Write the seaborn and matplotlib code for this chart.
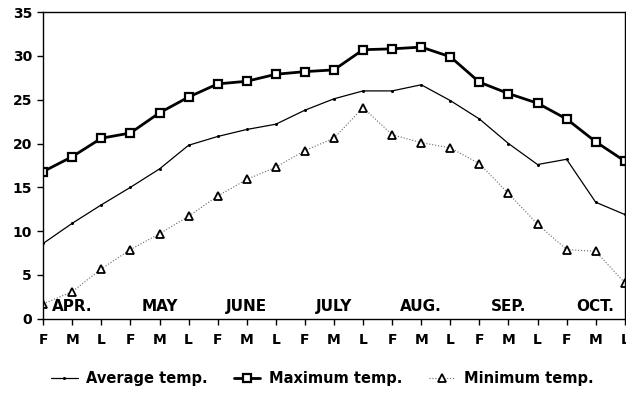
import numpy as np
import pandas as pd
import matplotlib
matplotlib.use("Agg")
import matplotlib.pyplot as plt
import seaborn as sns

# ---- data ----
decades = ["F", "M", "L"] * 7
months = ["APR.", "MAY", "JUNE", "JULY", "AUG.", "SEP.", "OCT."]

max_temp = [16.8, 18.5, 20.6, 21.2, 23.5, 25.3, 26.8, 27.1, 27.9, 28.2, 28.4,
            30.7, 30.8, 31.0, 29.9, 27.0, 25.7, 24.6, 22.8, 20.2, 18.0]
avg_temp = [8.6, 10.9, 13.0, 15.0, 17.1, 19.8, 20.8, 21.6, 22.2, 23.8, 25.1,
            26.0, 26.0, 26.7, 24.9, 22.8, 20.0, 17.6, 18.2, 13.3, 11.9]
min_temp = [1.7, 3.1, 5.7, 7.9, 9.7, 11.7, 14.0, 15.9, 17.3, 19.2, 20.6,
            24.1, 21.0, 20.1, 19.5, 17.7, 14.3, 10.8, 7.9, 7.7, 4.1]

df = pd.DataFrame({
    "pos": np.arange(len(decades)),
    "max": max_temp,
    "avg": avg_temp,
    "min": min_temp,
})

sns.set_style("ticks")
plt.rcParams["font.family"] = ["DejaVu Sans"]
plt.rcParams["font.weight"] = "bold"
plt.rcParams["text.color"] = "black"
plt.rcParams["xtick.color"] = "black"
plt.rcParams["ytick.color"] = "black"

fig = plt.figure(figsize=(6.26, 4.01), dpi=100)
ax = fig.add_axes([0.069, 0.205, 0.929, 0.765])

sns.lineplot(data=df, x="pos", y="avg", ax=ax, color="black", lw=0.9,
             marker="o", markersize=2.2, markeredgewidth=0,
             label="Average temp.")
sns.lineplot(data=df, x="pos", y="max", ax=ax, color="black", lw=2.0,
             marker="s", markersize=5.5, markerfacecolor="white",
             markeredgecolor="black", markeredgewidth=1.6,
             label="Maximum temp.")
sns.lineplot(data=df, x="pos", y="min", ax=ax, color="#666666", lw=0.8,
             linestyle=":", marker="^", markersize=5.5, markerfacecolor="white",
             markeredgecolor="black", markeredgewidth=1.3,
             label="Minimum temp.")

# month names sit above the middle decade of each month
for i, m in enumerate(months):
    ax.text(3 * i + 1, 0.6, m, ha="center", va="bottom",
            fontsize=11, fontweight="bold", color="black")

ax.set_xlim(0, len(decades) - 1)
ax.set_ylim(0, 35)
ax.set_xticks(df["pos"])
ax.set_xticklabels(decades)
ax.set_yticks(range(0, 36, 5))
ax.set_xlabel("")
ax.set_ylabel("")
ax.tick_params(axis="both", labelsize=10, length=4, width=1,
               color="black", labelcolor="black")
ax.tick_params(axis="x", pad=6)
ax.tick_params(axis="y", pad=4)
for lab in ax.get_xticklabels() + ax.get_yticklabels():
    lab.set_fontweight("bold")
for s in ax.spines.values():
    s.set_visible(True)
    s.set_color("black")
    s.set_linewidth(1.0)

handles, labels = ax.get_legend_handles_labels()
ax.get_legend().remove()
leg = fig.legend(handles, labels, loc="center", bbox_to_anchor=(0.515, 0.057),
                 ncol=3, frameon=False, columnspacing=1.8,
                 handlelength=1.8, handletextpad=0.6,
                 prop={"weight": "bold", "size": 10.5})
for t in leg.get_texts():
    t.set_color("black")

fig.savefig("out.png", dpi=100)
